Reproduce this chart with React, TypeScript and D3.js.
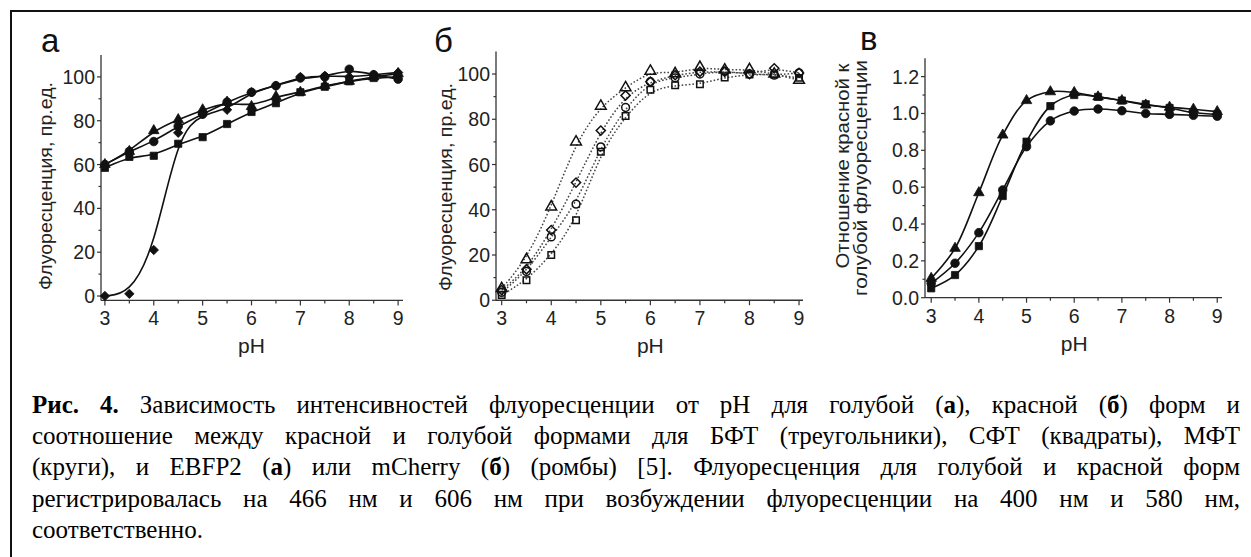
import React, { useEffect, useRef } from 'react';
import * as d3 from 'd3';

const pH = [3, 3.5, 4, 4.5, 5, 5.5, 6, 6.5, 7, 7.5, 8, 8.5, 9];

// а — голубая форма
const blueTriangle = [60, 66, 75.5, 80.5, 85, 88.5, 86.5, 91, 93, 96, 98, 100, 101.5];
const blueSquare = [58.5, 63.5, 64, 69.5, 72.5, 78.5, 84, 88, 93, 95.5, 98, 99.5, 100];
const blueCircle = [60, 66, 70.5, 77.5, 83, 88.5, 93, 96, 99.5, 100, 103.5, 101, 99];
const blueDiamond = [0, 1, 21, 74.5, 83, 85, 93, 96, 100, 100.5, 100, 101, 102];

// б — красная форма
const redTriangle = [5.2, 18, 41.3, 70, 85.8, 94, 101.3, 100.2, 103, 101.8, 102, 100, 97.3];
const redSquare = [2.3, 8.8, 20, 35.4, 65.6, 81.4, 93, 95, 95.5, 98.5, 99.8, 99.8, 98.3];
const redCircle = [3.5, 12.7, 28, 42.5, 67.8, 85.2, 96.6, 98.3, 100, 101.3, 100, 99.5, 100.5];
const redDiamond = [4.5, 13.7, 31, 52, 75, 90.5, 96.6, 99.5, 101, 101, 100, 102.5, 100.5];

// в — отношение красной к голубой
const ratioTriangle = [0.105, 0.268, 0.57, 0.883, 1.07, 1.118, 1.114, 1.09, 1.07, 1.046, 1.034, 1.023, 1.01];
const ratioSquare = [0.051, 0.123, 0.28, 0.552, 0.847, 1.04, 1.1, 1.09, 1.07, 1.05, 1.03, 1.005, 0.995];
const ratioCircle = [0.078, 0.187, 0.353, 0.585, 0.82, 0.96, 1.013, 1.024, 1.015, 1.0, 0.995, 0.99, 0.985];

const xTicks = [3, 4, 5, 6, 7, 8, 9];
const xMinorTicks = [3.5, 4.5, 5.5, 6.5, 7.5, 8.5];
const yTicksPercent = [0, 20, 40, 60, 80, 100];
const yMinorPercent = [10, 30, 50, 70, 90];
const yTicksRatio = [0, 0.2, 0.4, 0.6, 0.8, 1.0, 1.2];
const yMinorRatio = [0.1, 0.3, 0.5, 0.7, 0.9, 1.1];

const captionLines = [
  '*Рис.* *4.* Зависимость интенсивностей флуоресценции от pH для голубой (*а*), красной (*б*) форм и',
  'соотношение между красной и голубой формами для БФТ (треугольники), СФТ (квадраты), МФТ',
  '(круги), и EBFP2 (*а*) или mCherry (*б*) (ромбы) [5]. Флуоресценция для голубой и красной форм',
  'регистрировалась на 466 нм и 606 нм при возбуждении флуоресценции на 400 нм и 580 нм,',
  'соответственно.',
];

const SANS = "'Liberation Sans', Arial, sans-serif";
const SERIF = "'Liberation Serif', 'Times New Roman', 'DejaVu Serif Condensed', 'DejaVu Serif', serif";

const App = () => {
  const ref = useRef(null);

  useEffect(() => {
    document.body.style.margin = '0';
    const svg = d3.select(ref.current);
    svg.selectAll('*').remove();

    // рамка
    svg.append('rect')
      .attr('x', 11).attr('y', 11)
      .attr('width', 1300).attr('height', 600)
      .attr('fill', 'none').attr('stroke', '#111').attr('stroke-width', 2);

    const panels = [
      {
        label: 'а', labelX: 41, labelY: 52,
        xDomain: [2.92, 9.1], xRange: [101, 403],
        yDomain: [-2, 110], yRange: [300.4, 55],
        yTicks: yTicksPercent, yMinor: yMinorPercent, fmt: d3.format('d'),
        titles: [{ text: 'Флуоресценция, пр.ед.', x: 52, y: 186, len: 208 }],
        open: false, dotted: false, curve: d3.curveBasis,
        series: [
          { values: blueTriangle, symbol: 'triangle' },
          { values: blueSquare, symbol: 'square' },
          { values: blueCircle, symbol: 'circle' },
          { values: blueDiamond, symbol: 'diamond' },
        ],
      },
      {
        label: 'б', labelX: 434, labelY: 52,
        xDomain: [2.885, 9.08], xRange: [496, 803],
        yDomain: [0, 110], yRange: [300.25, 51.4],
        yTicks: yTicksPercent, yMinor: yMinorPercent, fmt: d3.format('d'),
        titles: [{ text: 'Флуоресценция, пр.ед.', x: 452, y: 187, len: 208 }],
        open: true, dotted: true, curve: d3.curveBasis,
        series: [
          { values: redTriangle, symbol: 'triangle' },
          { values: redSquare, symbol: 'square' },
          { values: redCircle, symbol: 'circle' },
          { values: redDiamond, symbol: 'diamond' },
        ],
      },
      {
        label: 'в', labelX: 860, labelY: 50,
        xDomain: [2.87, 9.1], xRange: [925, 1222],
        yDomain: [0, 1.3], yRange: [297.7, 58.2],
        yTicks: yTicksRatio, yMinor: yMinorRatio, fmt: d3.format('.1f'),
        titles: [
          { text: 'Отношение красной к', x: 849, y: 166, len: 205 },
          { text: 'голубой флуоресценции', x: 867, y: 178, len: 236 },
        ],
        open: false, dotted: false, curve: d3.curveCatmullRom,
        series: [
          { values: ratioTriangle, symbol: 'triangle' },
          { values: ratioSquare, symbol: 'square' },
          { values: ratioCircle, symbol: 'circle' },
        ],
      },
    ];

    const symbolPath = (name, open) => {
      if (name === 'triangle') return d3.symbol().type(d3.symbolTriangle).size(open ? 50 : 48)();
      if (name === 'square') return d3.symbol().type(d3.symbolSquare).size(open ? 42 : 52)();
      if (name === 'circle') return d3.symbol().type(d3.symbolCircle).size(open ? 48 : 58)();
      return d3.symbol().type(d3.symbolSquare).size(open ? 42 : 44)();
    };

    panels.forEach(p => {
      const x = d3.scaleLinear().domain(p.xDomain).range(p.xRange);
      const y = d3.scaleLinear().domain(p.yDomain).range(p.yRange);
      const g = svg.append('g');
      const axisY = p.yRange[0];
      const axisX = p.xRange[0];

      // оси
      g.append('line')
        .attr('x1', axisX).attr('x2', p.xRange[1])
        .attr('y1', axisY).attr('y2', axisY)
        .attr('stroke', '#333').attr('stroke-width', 1.3);
      g.append('line')
        .attr('x1', axisX).attr('x2', axisX)
        .attr('y1', axisY).attr('y2', p.yRange[1])
        .attr('stroke', '#333').attr('stroke-width', 1.3);

      g.selectAll('.xt').data(xTicks).enter().append('line')
        .attr('x1', d => x(d)).attr('x2', d => x(d))
        .attr('y1', axisY).attr('y2', axisY + 5)
        .attr('stroke', '#333').attr('stroke-width', 1.2);
      g.selectAll('.xm').data(xMinorTicks).enter().append('line')
        .attr('x1', d => x(d)).attr('x2', d => x(d))
        .attr('y1', axisY).attr('y2', axisY + 3)
        .attr('stroke', '#333').attr('stroke-width', 1.2);
      g.selectAll('.xl').data(xTicks).enter().append('text')
        .attr('x', d => x(d)).attr('y', axisY + 25)
        .attr('text-anchor', 'middle')
        .attr('font-family', SANS).attr('font-size', 19.5)
        .attr('fill', '#222')
        .text(d => d);

      g.selectAll('.yt').data(p.yTicks).enter().append('line')
        .attr('x1', axisX - 4).attr('x2', axisX)
        .attr('y1', d => y(d)).attr('y2', d => y(d))
        .attr('stroke', '#333').attr('stroke-width', 1.2);
      g.selectAll('.ym').data(p.yMinor).enter().append('line')
        .attr('x1', axisX - 2.5).attr('x2', axisX)
        .attr('y1', d => y(d)).attr('y2', d => y(d))
        .attr('stroke', '#333').attr('stroke-width', 1.2);
      g.selectAll('.yl').data(p.yTicks).enter().append('text')
        .attr('x', axisX - 6).attr('y', d => y(d))
        .attr('dy', '0.36em')
        .attr('text-anchor', 'end')
        .attr('font-family', SANS).attr('font-size', 19.5)
        .attr('fill', '#222')
        .text(d => p.fmt(d));

      g.append('text')
        .attr('x', (x(3) + x(9)) / 2).attr('y', axisY + 53)
        .attr('text-anchor', 'middle')
        .attr('font-family', SANS).attr('font-size', 21)
        .attr('fill', '#222')
        .text('pH');

      p.titles.forEach(t => {
        g.append('text')
          .attr('transform', `translate(${t.x},${t.y}) rotate(-90)`)
          .attr('text-anchor', 'middle')
          .attr('font-family', SANS).attr('font-size', 19)
          .attr('textLength', t.len)
          .attr('lengthAdjust', 'spacingAndGlyphs')
          .attr('fill', '#222')
          .text(t.text);
      });

      g.append('text')
        .attr('x', p.labelX).attr('y', p.labelY)
        .attr('font-family', SANS).attr('font-size', 33)
        .attr('fill', '#111')
        .text(p.label);

      const line = d3.line()
        .x((d, i) => x(pH[i]))
        .y(d => y(d))
        .curve(p.curve);

      p.series.forEach(s => {
        g.append('path')
          .attr('d', line(s.values))
          .attr('fill', 'none')
          .attr('stroke', p.dotted ? '#444' : '#111')
          .attr('stroke-width', p.dotted ? 1.5 : 1.6)
          .attr('stroke-dasharray', p.dotted ? '1.6,2' : null);
      });

      p.series.forEach(s => {
        g.selectAll(null).data(s.values).enter().append('path')
          .attr('d', symbolPath(s.symbol, p.open))
          .attr('transform', (d, i) => `translate(${x(pH[i])},${y(d)})${s.symbol === 'diamond' ? ' rotate(45)' : ''}`)
          .attr('fill', p.open ? 'white' : '#111')
          .attr('fill-opacity', p.open ? 0 : 1)
          .attr('stroke', '#111')
          .attr('stroke-width', p.open ? 1.5 : 0.8);
      });
    });

    // подпись, выровненная по ширине
    const left = 32;
    const right = 1240;
    const baselines = [413, 444, 475, 507, 538];
    const fontSize = 25;

    const addWord = (parent, word) => {
      word.split('*').forEach((seg, k) => {
        if (!seg) return;
        parent.append('tspan')
          .attr('font-weight', k % 2 === 1 ? 'bold' : 'normal')
          .text(seg);
      });
    };

    captionLines.forEach((ln, li) => {
      const words = ln.split(' ');
      const widths = words.map(w => {
        const tmp = svg.append('text')
          .attr('font-family', SERIF).attr('font-size', fontSize);
        addWord(tmp, w);
        const wd = tmp.node().getComputedTextLength();
        tmp.remove();
        return wd;
      });
      const total = d3.sum(widths);
      const last = li === captionLines.length - 1;
      const gap = last ? fontSize * 0.25 : (right - left - total) / (words.length - 1);
      let cx = left;
      words.forEach((w, i) => {
        const t = svg.append('text')
          .attr('x', cx).attr('y', baselines[li])
          .attr('font-family', SERIF).attr('font-size', fontSize)
          .attr('fill', '#000');
        addWord(t, w);
        cx += widths[i] + gap;
      });
    });
  }, []);

  return <svg ref={ref} width={1251} height={557} style={{ display: 'block', background: 'white' }} />;
};

export default App;
